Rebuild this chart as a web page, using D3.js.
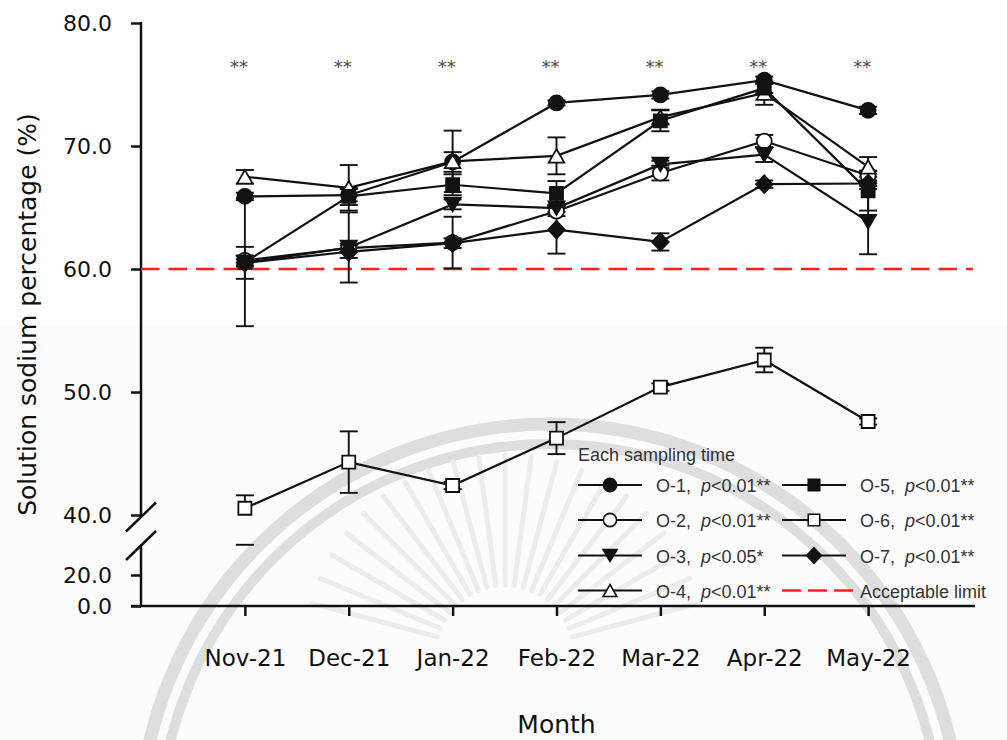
<!DOCTYPE html>
<html>
<head>
<meta charset="utf-8">
<script src="https://cdn.jsdelivr.net/npm/d3@7"></script>
<style>
  html, body { margin: 0; padding: 0; background: #fff; }
  svg { display: block; }
  text { white-space: pre; }
</style>
</head>
<body>
<svg id="chart" width="1007" height="740"></svg>
<script>
// ---- data -----------------------------------------------------------
const months = ["Nov-21", "Dec-21", "Jan-22", "Feb-22", "Mar-22", "Apr-22", "May-22"];
const significance = ["**", "**", "**", "**", "**", "**", "**"];

const o1Mean = [65.9, 66.0, 68.7, 73.5, 74.15, 75.35, 72.9];
const o1Sd   = [0.3, 0.5, 0.8, 0.2, 0.3, 0.3, 0.3];
const o2Mean = [60.7, 61.7, 62.15, 64.7, 67.8, 70.4, 67.6];
const o2Sd   = [0.4, 0.35, 2.1, 0.4, 0.6, 0.5, 0.4];
const o3Mean = [60.5, 61.75, 65.25, 64.95, 68.5, 69.3, 63.85];
const o3Sd   = [1.3, 2.85, 0.4, 0.3, 0.3, 0.6, 2.65];
const o4Mean = [67.5, 66.6, 68.75, 69.2, 72.35, 74.3, 68.3];
const o4Sd   = [0.55, 1.85, 2.5, 1.5, 0.6, 0.95, 0.8];
const o5Mean = [60.55, 65.9, 66.85, 66.15, 72.05, 74.7, 66.35];
const o5Sd   = [5.2, 0.7, 0.85, 1.0, 0.85, 0.4, 1.6];
const o6Mean = [40.55, 44.3, 42.4, 46.25, 50.4, 52.6, 47.6];
const o6Sd   = [1.05, 2.5, 0.3, 1.3, 0.3, 1.0, 0.25];
const o7Mean = [60.5, 61.4, 62.1, 63.2, 62.2, 66.9, 66.95];
const o7Sd   = [0.3, 0.5, 0.4, 1.95, 0.7, 0.3, 0.2];

const seriesNames = ["O-1", "O-2", "O-3", "O-4", "O-5", "O-6", "O-7"];
const pValues     = ["<0.01", "<0.01", "<0.05", "<0.01", "<0.01", "<0.01", "<0.01"];
const pStars      = ["**", "**", "*", "**", "**", "**", "**"];
const seriesMeans = [o1Mean, o2Mean, o3Mean, o4Mean, o5Mean, o6Mean, o7Mean];
const seriesSds   = [o1Sd, o2Sd, o3Sd, o4Sd, o5Sd, o6Sd, o7Sd];

const limitValue = 60;
const limitLabel = "Acceptable limit";
const upperTicks = [40, 50, 60, 70, 80];
const lowerTicks = [0, 20];

// ---- marker styles ----------------------------------------------------
const seriesShape = ["circle", "circle", "triangleDown", "triangleUp", "square", "square", "diamond"];
const seriesFilled = [true, false, true, false, true, false, true];

const series = seriesNames.map((name, i) => ({
  name, p: pValues[i], stars: pStars[i],
  shape: seriesShape[i], filled: seriesFilled[i],
  values: months.map((m, j) => ({ month: m, mean: seriesMeans[i][j], sd: seriesSds[i][j] }))
}));

function shapePath(shape, k) {
  const s = k || 1;
  switch (shape) {
    case "circle": {
      const r = 7.5 * s;
      return `M${r},0A${r},${r} 0 1,1 ${-r},0A${r},${r} 0 1,1 ${r},0Z`;
    }
    case "square": {
      const h = 6.5 * s;
      return `M${-h},${-h}H${h}V${h}H${-h}Z`;
    }
    case "triangleUp": {
      const w = 7.8 * s, h = 6.8 * s;
      return `M0,${-h}L${w},${h}L${-w},${h}Z`;
    }
    case "triangleDown": {
      const w = 8 * s, h = 6.8 * s;
      return `M0,${h}L${w},${-h}L${-w},${-h}Z`;
    }
    case "diamond": {
      const w = 8.3 * s, h = 8.8 * s;
      return `M0,${-h}L${w},0L0,${h}L${-w},0Z`;
    }
  }
}

// ---- scales -----------------------------------------------------------
const svg = d3.select("#chart");
const x = d3.scalePoint().domain(months).range([141, 972]).padding(1);
const yU = d3.scaleLinear().domain([40, 80]).range([515, 23]);   // upper segment
const yL = d3.scaleLinear().domain([0, 39.5]).range([606, 544.8]); // lower segment
const yPos = v => (v >= yU.domain()[0] ? yU(v) : yL(v));
const axisX = x.range()[0];
const axisRight = x.range()[1] + 3;
const tickLen = 10;

// ---- background seal (faint) -----------------------------------------
const bg = svg.append("g");
bg.append("rect").attr("x", 0).attr("y", 325).attr("width", 1007).attr("height", 415)
  .attr("fill", "#fcfcfc");
const seal = { cx: 550, cy: 835 };
bg.append("circle").attr("cx", seal.cx).attr("cy", seal.cy).attr("r", 411)
  .attr("fill", "none").attr("stroke", "#dedede").attr("stroke-width", 13);
bg.append("circle").attr("cx", seal.cx).attr("cy", seal.cy).attr("r", 391)
  .attr("fill", "none").attr("stroke", "#dedede").attr("stroke-width", 10);
const rays = d3.range(-165, -14, 7.5);
bg.selectAll("line.ray").data(rays).join("line")
  .attr("class", "ray")
  .attr("x1", a => 505 + 70 * Math.cos(a * Math.PI / 180))
  .attr("y1", a => 655 + 70 * Math.sin(a * Math.PI / 180))
  .attr("x2", a => 505 + 200 * Math.cos(a * Math.PI / 180))
  .attr("y2", a => 655 + 200 * Math.sin(a * Math.PI / 180))
  .attr("stroke", "#ececec").attr("stroke-width", 5).attr("stroke-linecap", "round");

// ---- axes -------------------------------------------------------------
const fmt = d3.format(".1f");
const axisFont = "DejaVu Sans, Verdana, sans-serif";

function styleAxis(g, size) {
  g.select(".domain").remove();
  g.selectAll(".tick line").attr("stroke", "#111").attr("stroke-width", 2.5);
  g.selectAll(".tick text").attr("fill", "#111")
    .style("font-family", axisFont).style("font-size", size + "px");
}

svg.append("g").attr("transform", `translate(${axisX},0)`)
  .call(d3.axisLeft(yU).tickValues(upperTicks).tickSize(tickLen).tickPadding(19).tickFormat(fmt))
  .call(g => styleAxis(g, 22));
svg.append("g").attr("transform", `translate(${axisX},0)`)
  .call(d3.axisLeft(yL).tickValues(lowerTicks).tickSize(tickLen).tickPadding(19).tickFormat(fmt))
  .call(g => styleAxis(g, 22));

const axes = svg.append("g").attr("stroke", "#111").attr("stroke-width", 2.5).attr("fill", "none");
axes.append("line").attr("x1", axisX).attr("x2", axisX).attr("y1", yU(80) - 1).attr("y2", yU(40) + 2);
axes.append("line").attr("x1", axisX).attr("x2", axisX).attr("y1", yL(39.5)).attr("y2", yL(0));
axes.append("line").attr("x1", axisX - tickLen).attr("x2", axisRight).attr("y1", yL(0)).attr("y2", yL(0));
// axis break marks
[yU(40) + 2, yL(39.5) + 0.7].forEach(cy => {
  axes.append("line").attr("x1", axisX - 15).attr("y1", cy + 14.5)
    .attr("x2", axisX + 15).attr("y2", cy - 14.5);
});

svg.append("g").attr("transform", `translate(0,${yL(0)})`)
  .call(d3.axisBottom(x).tickSize(tickLen).tickPadding(34))
  .call(g => styleAxis(g, 23));

svg.append("text")
  .attr("transform", `translate(36,${(yU(80) + yL(0)) / 2 + 0}) rotate(-90)`)
  .attr("text-anchor", "middle").attr("fill", "#111")
  .style("font-family", axisFont).style("font-size", "25px")
  .text("Solution sodium percentage (%)");

svg.append("text")
  .attr("x", (x(months[0]) + x(months[months.length - 1])) / 2).attr("y", 733)
  .attr("text-anchor", "middle").attr("fill", "#111")
  .style("font-family", axisFont).style("font-size", "25px")
  .text("Month");

// significance marks above each month
svg.append("g").selectAll("text").data(months).join("text")
  .attr("x", d => x(d) - 6).attr("y", 72.5)
  .attr("text-anchor", "middle").attr("fill", "#4a4a4a")
  .style("font-family", axisFont).style("font-size", "18px")
  .text((d, i) => significance[i]);

// acceptable limit
svg.append("line")
  .attr("x1", axisX).attr("x2", axisRight - 2)
  .attr("y1", yU(limitValue)).attr("y2", yU(limitValue))
  .attr("stroke", "#ff1f1f").attr("stroke-width", 2.5).attr("stroke-dasharray", "18.5,9");

// ---- error bars -------------------------------------------------------
const capHalf = 9;
const eb = svg.append("g").attr("stroke", "#111").attr("stroke-width", 1.9).attr("fill", "none");
series.forEach(s => {
  s.values.forEach(d => {
    const cx = x(d.month);
    const top = d.mean + d.sd, bot = d.mean - d.sd;
    const uLo = yU.domain()[0], lHi = yL.domain()[1];
    if (top >= uLo) {
      eb.append("line").attr("x1", cx).attr("x2", cx)
        .attr("y1", yU(Math.max(bot, uLo))).attr("y2", yU(top));
    }
    if (bot < lHi) {
      eb.append("line").attr("x1", cx).attr("x2", cx)
        .attr("y1", yL(bot)).attr("y2", yL(Math.min(top, lHi)));
    }
    [top, bot].forEach(v => {
      eb.append("line").attr("x1", cx - capHalf).attr("x2", cx + capHalf)
        .attr("y1", yPos(v)).attr("y2", yPos(v));
    });
  });
});

// ---- lines and markers ------------------------------------------------
const line = d3.line().x(d => x(d.month)).y(d => yPos(d.mean));
series.forEach(s => {
  const g = svg.append("g");
  g.append("path").datum(s.values).attr("d", line)
    .attr("fill", "none").attr("stroke", "#111").attr("stroke-width", 2.2);
  g.selectAll("path.pt").data(s.values).join("path")
    .attr("class", "pt")
    .attr("transform", d => `translate(${x(d.month)},${yPos(d.mean)})`)
    .attr("d", shapePath(s.shape))
    .attr("fill", s.filled ? "#111" : "#fff")
    .attr("stroke", "#111").attr("stroke-width", 1.8);
});

// ---- legend -----------------------------------------------------------
const legendFont = "Liberation Sans, Arial, sans-serif";
const lg = svg.append("g").attr("transform", "translate(578,0)");
lg.append("text").attr("x", 0).attr("y", 461).attr("fill", "#333")
  .style("font-family", legendFont).style("font-size", "18px")
  .text("Each sampling time");

const rowY = [485, 520, 555.5, 590.5];
const colX = [0, 204];
const entries = series.map((s, i) => ({ kind: "series", s, col: i < 4 ? 0 : 1, row: i < 4 ? i : i - 4 }));
entries.push({ kind: "limit", col: 1, row: 3 });

entries.forEach(e => {
  const g = lg.append("g").attr("transform", `translate(${colX[e.col]},${rowY[e.row]})`);
  if (e.kind === "series") {
    g.append("line").attr("x1", 0).attr("x2", 64).attr("y1", 0).attr("y2", 0)
      .attr("stroke", "#111").attr("stroke-width", 2.2);
    g.append("path").attr("transform", "translate(32,0)").attr("d", shapePath(e.s.shape, 0.88))
      .attr("fill", e.s.filled ? "#111" : "#fff").attr("stroke", "#111").attr("stroke-width", 1.6);
    const t = g.append("text").attr("x", 78).attr("y", 7).attr("fill", "#333")
      .style("font-family", legendFont).style("font-size", "18px");
    t.append("tspan").text(e.s.name + ",  ");
    t.append("tspan").style("font-style", "italic").text("p");
    t.append("tspan").text(e.s.p + e.s.stars);
  } else {
    g.append("line").attr("x1", 0).attr("x2", 71).attr("y1", 0).attr("y2", 0)
      .attr("stroke", "#ff1f1f").attr("stroke-width", 2.5).attr("stroke-dasharray", "19,7");
    g.append("text").attr("x", 78).attr("y", 7).attr("fill", "#333")
      .style("font-family", legendFont).style("font-size", "18px")
      .text(limitLabel);
  }
});
</script>
</body>
</html>
